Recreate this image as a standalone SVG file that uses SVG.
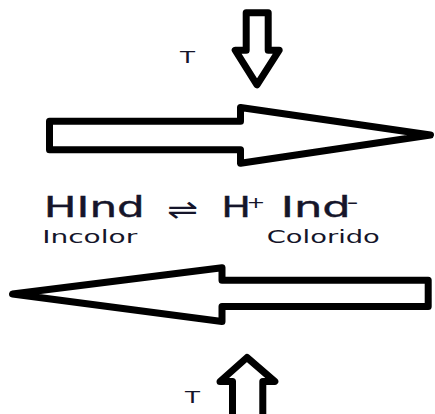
<svg xmlns="http://www.w3.org/2000/svg" width="435" height="414" viewBox="0 0 435 414">
<style>
.blk{fill:#fff;stroke:#000;stroke-width:7;stroke-linejoin:round}
.t{font-family:"DejaVu Sans",Verdana,sans-serif;fill:#15152a}
.b{stroke:#15152a;stroke-width:0.4}
</style>
<rect width="435" height="414" fill="#fff"/>
<g id="connectors">
<polygon id="arrow-down" class="blk" points="246.2,12.8 268.2,12.8 268.2,50.2 279.2,50.2 257,84.8 235.2,50.2 246.2,50.2"/>
<polygon id="arrow-right" class="blk" points="49.5,121.2 240.5,121.2 240.5,107.5 430.5,135 240.5,163.2 240.5,149.8 49.5,149.8"/>
<polygon id="arrow-left" class="blk" points="12.5,294 222,267.8 222,280.2 428.2,280.2 428.2,306.5 222,306.5 222,321.5"/>
<polygon id="arrow-up" class="blk" points="232.5,425 232.5,381.5 220,381.5 247,357.5 274.8,381.5 262.8,381.5 262.8,425"/>
</g>
<g id="label-T-top"><text class="t" x="180" y="63" font-size="16" textLength="15" lengthAdjust="spacingAndGlyphs">T</text></g>
<g id="label-T-bottom"><text class="t" x="185" y="403" font-size="16" textLength="15" lengthAdjust="spacingAndGlyphs">T</text></g>
<g id="equation">
<text class="t b" x="43.8" y="217" font-size="28" textLength="101" lengthAdjust="spacingAndGlyphs">HInd</text>
<text class="t" x="167" y="219" font-size="28" textLength="31" lengthAdjust="spacingAndGlyphs">⇌</text>
<text class="t b" x="221.2" y="217" font-size="28" textLength="29.7" lengthAdjust="spacingAndGlyphs">H</text>
<text class="t" x="246.6" y="207.8" font-size="16" textLength="18.8" lengthAdjust="spacingAndGlyphs">+</text>
<text class="t b" x="280.7" y="217" font-size="28" textLength="70" lengthAdjust="spacingAndGlyphs">Ind</text>
<text class="t" x="346.5" y="209" font-size="20" textLength="12" lengthAdjust="spacingAndGlyphs">-</text>
</g>
<g id="label-incolor"><text class="t" x="42.2" y="243" font-size="18" textLength="95" lengthAdjust="spacingAndGlyphs">Incolor</text></g>
<g id="label-colorido"><text class="t" x="266.8" y="243" font-size="18" textLength="113" lengthAdjust="spacingAndGlyphs">Colorido</text></g>
</svg>
